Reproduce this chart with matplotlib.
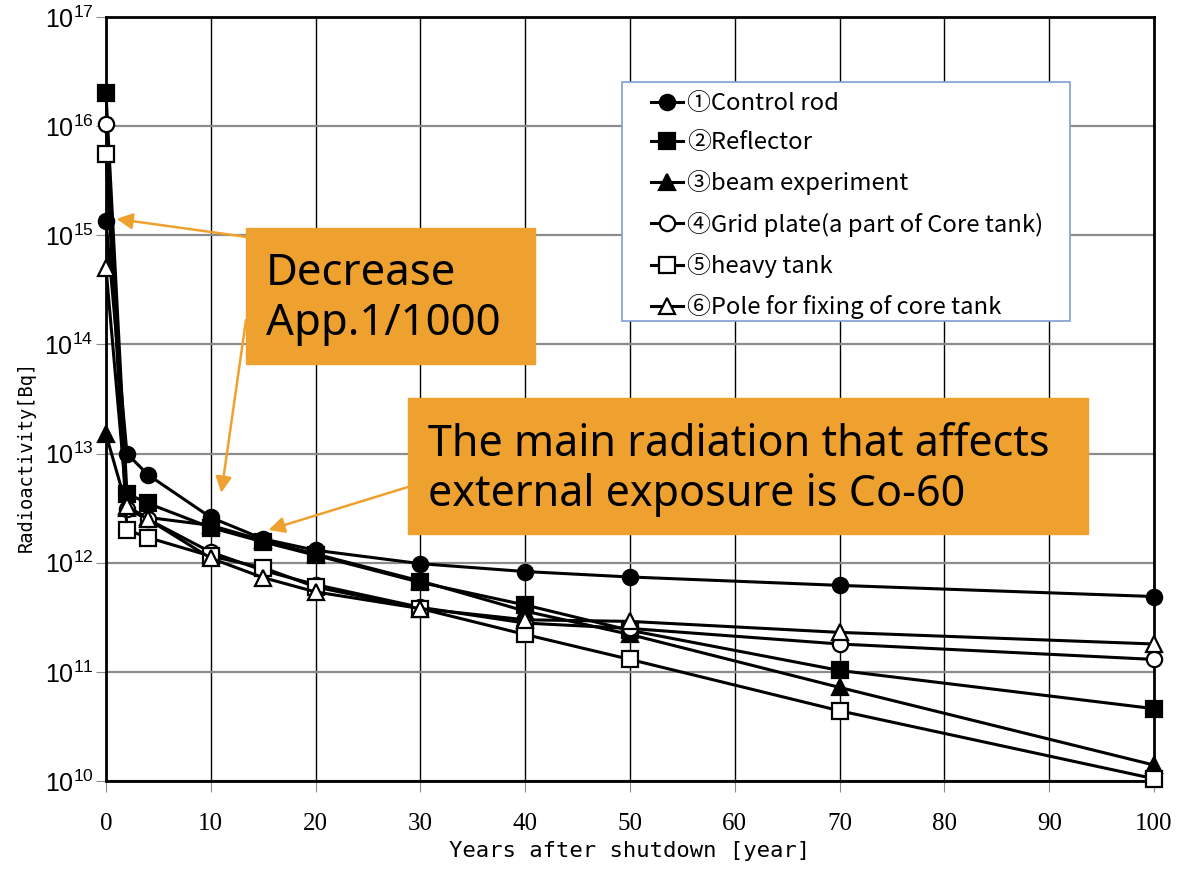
import matplotlib
matplotlib.use("Agg")
import matplotlib.pyplot as plt
from matplotlib.patches import Rectangle
import numpy as np

# ------- data -------------------------------------------
years = [0, 2, 4, 10, 15, 20, 30, 40, 50, 70, 100]

control_rod = [1.35e15, 1.0e13, 6.4e12, 2.6e12, 1.65e12, 1.3e12, 9.8e11, 8.3e11, 7.4e11, 6.2e11, 4.9e11]
reflector = [2.0e16, 4.3e12, 3.5e12, 2.1e12, 1.55e12, 1.17e12, 6.6e11, 4.1e11, 2.4e11, 1.03e11, 4.6e10]
beam_exp = [1.5e13, 3.2e12, 2.6e12, 2.2e12, 1.6e12, 1.2e12, 6.8e11, 3.6e11, 2.2e11, 7.2e10, 1.4e10]
grid_plate = [1.05e16, 3.1e12, 2.5e12, 1.25e12, 8.5e11, 6.3e11, 3.9e11, 2.8e11, 2.5e11, 1.8e11, 1.3e11]
heavy_tank = [5.5e15, 2.0e12, 1.7e12, 1.15e12, 9.0e11, 6.0e11, 3.8e11, 2.2e11, 1.3e11, 4.4e10, 1.05e10]
pole = [5.0e14, 3.3e12, 2.5e12, 1.1e12, 7.3e11, 5.4e11, 3.8e11, 3.0e11, 2.9e11, 2.3e11, 1.8e11]

series_labels = [
    "①Control rod",
    "②Reflector",
    "③beam experiment",
    "④Grid plate(a part of Core tank)",
    "⑤heavy tank",
    "⑥Pole for fixing of core tank",
]
x_ticks = [0, 10, 20, 30, 40, 50, 60, 70, 80, 90, 100]

ORANGE = "#EFA12F"
W, H = 1182, 872

plt.rcParams['font.family'] = ['Liberation Sans Narrow', 'Liberation Sans', 'DejaVu Sans']

fig = plt.figure(figsize=(W / 100, H / 100), dpi=100)
ax = fig.add_axes([106 / W, 1 - 781 / H, (1154 - 106) / W, (781 - 17) / H])

# (valeurs, marqueur, rempli ?)
series = [
    (control_rod, "o", True),
    (reflector, "s", True),
    (beam_exp, "^", True),
    (grid_plate, "o", False),
    (heavy_tank, "s", False),
    (pole, "^", False),
]
for (vals, mk, filled), label in zip(series, series_labels):
    ax.plot(years, vals, color="black", lw=2.2, marker=mk, markersize=11,
            markerfacecolor="black" if filled else "white",
            markeredgecolor="black", markeredgewidth=1.6,
            label=label, clip_on=False, zorder=3)

ax.set_yscale("log")
ax.set_xlim(0, 100)
ax.set_ylim(1e10, 1e17)
ax.set_xticks(x_ticks)
ax.set_yticks([10.0 ** k for k in range(10, 18)])
ax.yaxis.set_minor_locator(matplotlib.ticker.NullLocator())

ax.grid(axis="x", color="black", lw=1.0, zorder=0)
ax.grid(axis="y", color="#8c8c8c", lw=1.6, zorder=0)
ax.set_axisbelow(True)
for sp in ax.spines.values():
    sp.set_color("black")
    sp.set_linewidth(2.0)

ax.tick_params(axis="x", direction="out", length=8, color="#8c8c8c", pad=15,
               labelsize=18)
ax.tick_params(axis="y", direction="out", length=7, color="#8c8c8c", pad=2,
               labelsize=18)
for t in ax.get_xticklabels():
    t.set_family("Liberation Serif")

ax.set_xlabel("Years after shutdown [year]", family="DejaVu Sans Mono",
              fontsize=16)
ax.xaxis.set_label_coords(0.5, -0.079)
ax.set_ylabel("Radioactivity[Bq]", family="DejaVu Sans Mono", fontsize=13.5)
ax.yaxis.set_label_coords(-0.067, 0.425)

# cadre de légende dessiné à part (marges comme l'original)
ax.add_artist(Rectangle((622 / W, 1 - 321 / H), 448 / W, 239 / H,
                        transform=fig.transFigure, facecolor="white",
                        edgecolor="#7f9fd0", lw=1.2, zorder=4, clip_on=False))
leg = ax.legend(loc="upper left", bbox_to_anchor=(651 / W, 1 - 92 / H),
                bbox_transform=fig.transFigure, frameon=False, borderpad=0,
                labelspacing=0.68, handlelength=1.35, handletextpad=0.15,
                borderaxespad=0,
                prop={"family": ["Noto Sans CJK JP", "DejaVu Sans"], "size": 17.2})
leg.set_zorder(5)

# --- encadrés orange ---
fig.add_artist(Rectangle((246 / W, 1 - 364 / H), 289 / W, 136 / H,
                         transform=fig.transFigure, color=ORANGE, zorder=5))
fig.add_artist(Rectangle((408 / W, 1 - 534 / H), 680 / W, 136 / H,
                         transform=fig.transFigure, color=ORANGE, zorder=5))
fig.text(266 / W, 1 - 299 / H, "Decrease\nApp.1/1000", ha="left", va="center",
         family="Noto Sans", fontsize=31.5, linespacing=1.18, zorder=6)
fig.text(428 / W, 1 - 470 / H, "The main radiation that affects\nexternal exposure is Co-60",
         ha="left", va="center", family="Noto Sans", fontsize=31,
         linespacing=1.2, zorder=6)

# flèches
arrow_kw = dict(arrowstyle="-|>", color=ORANGE, lw=1.8, mutation_scale=24,
                shrinkA=0, shrinkB=0)
ax.annotate("", xy=(1.0, 10 ** 15.15), xytext=(247, H - 237),
            textcoords="figure pixels", arrowprops=arrow_kw)
ax.annotate("", xy=(11.0, 10 ** 12.64), xytext=(246, H - 320),
            textcoords="figure pixels", arrowprops=arrow_kw)
ax.annotate("", xy=(15.5, 10 ** 12.30), xytext=(408, H - 487),
            textcoords="figure pixels", arrowprops=arrow_kw)

fig.savefig("out.png", dpi=100)
